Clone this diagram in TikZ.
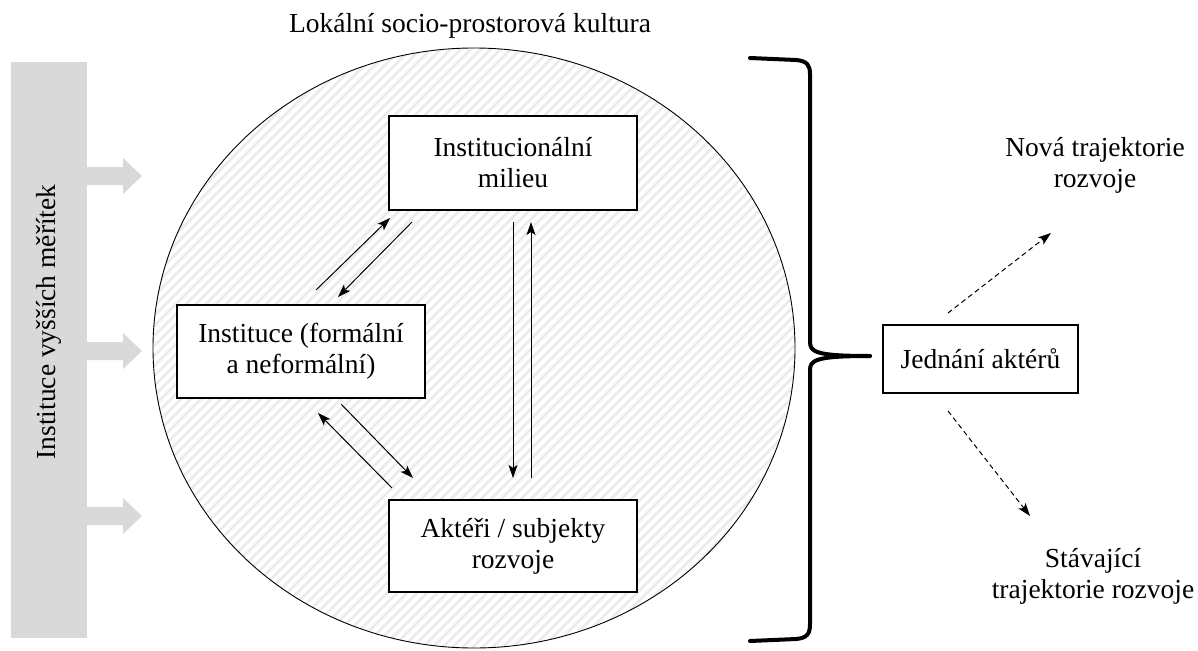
\documentclass[tikz,border=0pt]{standalone}
\usepackage{fontspec}
\setmainfont{Liberation Serif}
\usetikzlibrary{arrows.meta}
\begin{document}
\begin{tikzpicture}[x=1pt,y=-1pt,
  txt/.style={align=center,font=\fontsize{27.5}{31}\selectfont},
  box/.style={txt,draw=black,line width=1.4pt,fill=white,inner sep=0pt,
              minimum width=248pt},
  link/.style={line width=1pt,-{Stealth[length=13pt,width=9pt,inset=3pt]}},
  dlink/.style={link,dash pattern=on 5pt off 3.5pt},
  graybar/.style={fill=black!15,draw=none,inner sep=0pt},
  stripe/.style={draw=black!8,line width=2.8pt},
  bracestyle/.style={line width=4pt,line cap=round,line join=round}]
\useasboundingbox (0,0) rectangle (1198,650);

% title
\node[txt] (title) at (470,26) {Lokální socio-prostorová kultura};

% outer bar and block arrows
\node[graybar,minimum width=76pt,minimum height=576pt] (bar) at (49,350) {};
\node[txt,rotate=90] (bartext) at (49,322) {Instituce vyšších měřítek};
\foreach \y in {176,351,516}
  \fill[black!15] (bar.east |- 0,\y-9) -- (123,\y-9) -- (123,\y-18) -- (142,\y)
        -- (123,\y+18) -- (123,\y+9) -- (bar.east |- 0,\y+9) -- cycle;

% ellipse with hatching
\coordinate (c) at (474,348);
\begin{scope}
  \clip (c) ellipse [x radius=321pt, y radius=300pt];
  \foreach \i in {-700,-690,...,900}
    \draw[stripe] (\i,700) -- (\i+700,0);
\end{scope}
\draw[line width=0.9pt] (c) ellipse [x radius=321pt, y radius=300pt];

% boxes
\node[box,minimum height=94pt] (milieu) at (513,163) {Institucionální\\milieu};
\node[box,minimum height=93pt] (inst) at (301,351.5) {Instituce (formální\\a neformální)};
\node[box,minimum height=92pt] (akt) at (513,546) {Aktéři / subjekty\\rozvoje};
\node[box,minimum width=195pt,minimum height=68pt] (jed) at (980.5,359) {Jednání aktérů};

% arrow end points
\coordinate (a1s) at (316,290); \coordinate (a1e) at (390,218);
\coordinate (a2s) at (412,222); \coordinate (a2e) at (338,297);
\coordinate (a3s) at (341,404); \coordinate (a3e) at (413,478);
\coordinate (a4s) at (392,488); \coordinate (a4e) at (318,413);
\coordinate (a5s) at (513,222); \coordinate (a5e) at (513,478);
\coordinate (a6s) at (531,478); \coordinate (a6e) at (531,222);
\draw[link] (a1s) -- (a1e);
\draw[link] (a2s) -- (a2e);
\draw[link] (a3s) -- (a3e);
\draw[link] (a4s) -- (a4e);
\draw[link] (a5s) -- (a5e);
\draw[link] (a6s) -- (a6e);

% brace
\coordinate (tip) at (870,356);
\draw[bracestyle] (750,58) -- (796,60) .. controls (807,61) and (810,65) .. (810,74)
  -- (810,342) .. controls (810,352) and (816,356) .. (tip);
\draw[bracestyle] (tip) .. controls (816,356) and (810,360) .. (810,370)
  -- (810,624) .. controls (810,634) and (807,638) .. (796,639) -- (750,641);

% outcomes
\node[txt] (nova) at (1095,165) {Nová trajektorie\\rozvoje};
\node[txt] (stav) at (1093,576) {Stávající\\trajektorie rozvoje};
\coordinate (d1s) at (948,313); \coordinate (d1e) at (1051,233);
\coordinate (d2s) at (948,411); \coordinate (d2e) at (1030,516);
\draw[dlink] (d1s) -- (d1e);
\draw[dlink] (d2s) -- (d2e);
\end{tikzpicture}
\end{document}
